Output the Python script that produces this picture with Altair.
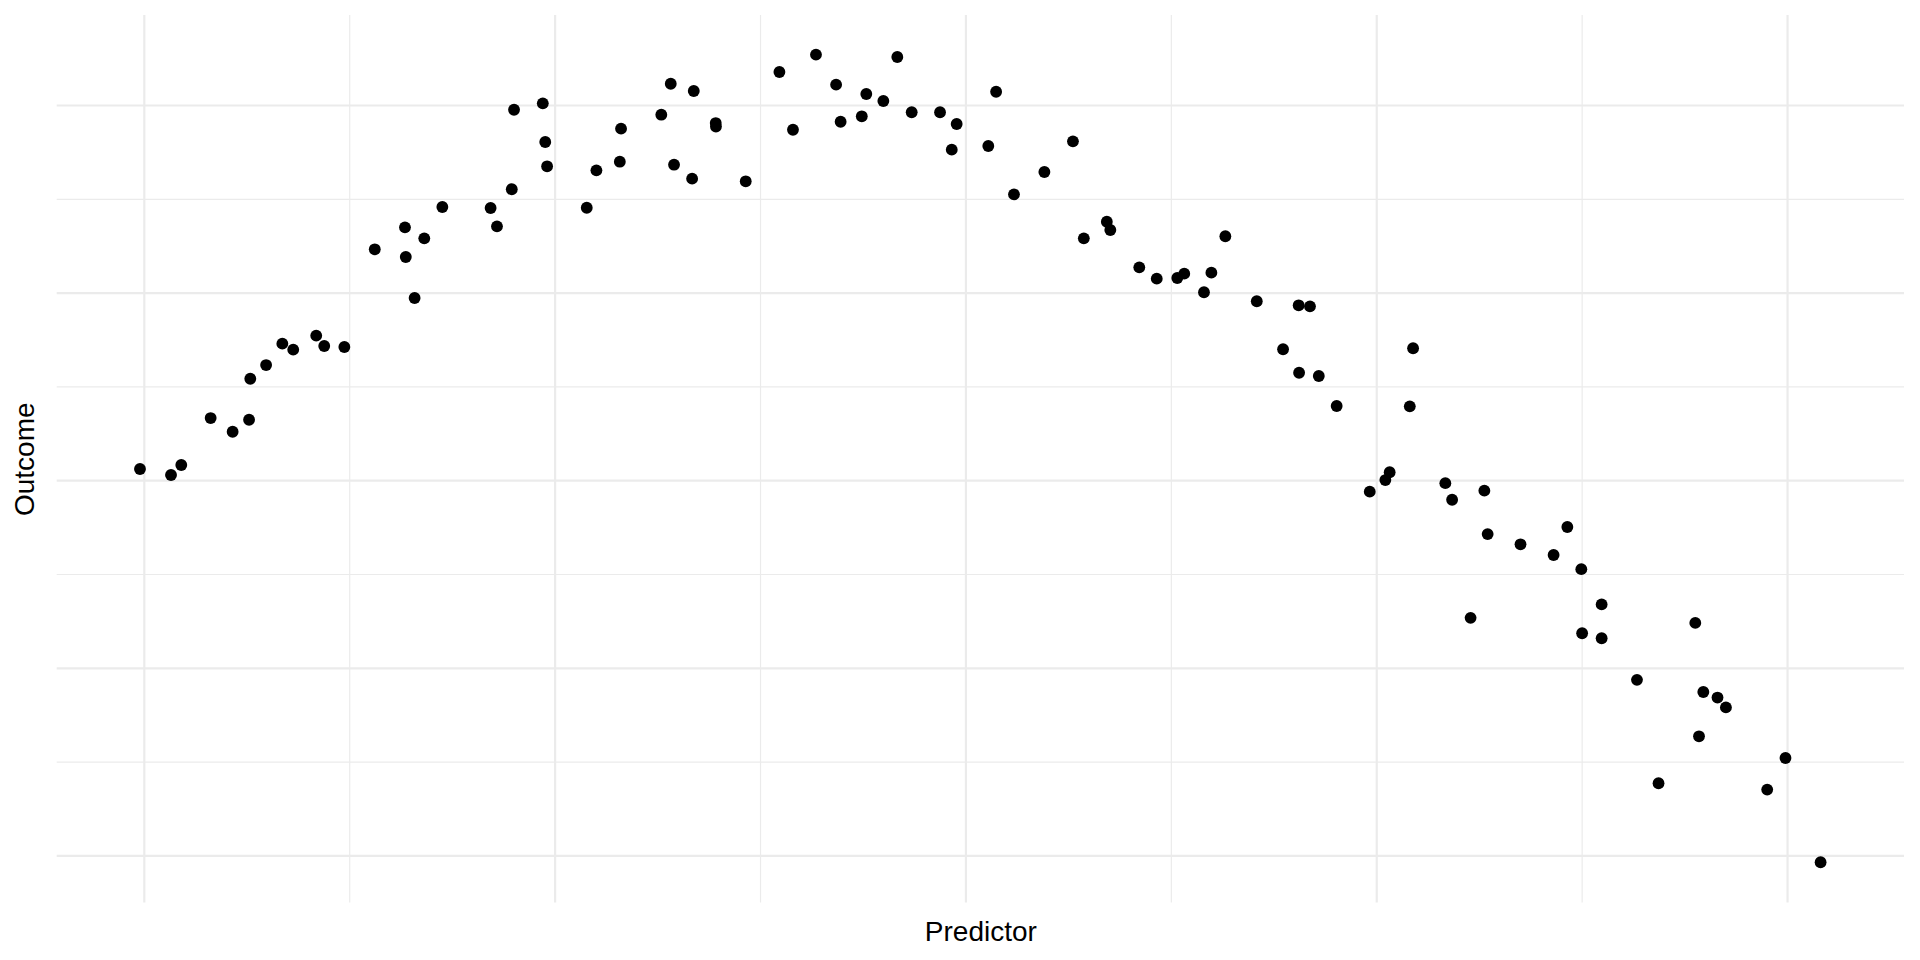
import altair as alt
import pandas as pd

# Values (arbitrary units: major grid at 0,2,4,6,8)
predictor = [
    -0.021, 0.130, 0.180, 0.323, 0.430, 0.510, 0.516, 0.593, 0.672, 0.725,
    0.837, 0.876, 0.974, 1.122, 1.269, 1.273, 1.316, 1.363, 1.451, 1.686,
    1.717, 1.789, 1.800, 1.940, 1.952, 1.961, 2.154, 2.201, 2.315, 2.321,
    2.517, 2.563, 2.579, 2.667, 2.675, 2.782, 2.783, 2.928, 3.092, 3.158,
    3.270, 3.368, 3.390, 3.493, 3.515, 3.598, 3.666, 3.736, 3.874, 3.955,
    3.931, 4.109, 4.147, 4.521, 4.234, 4.382, 4.574, 4.686, 4.703, 4.844,
    4.929, 5.029, 5.063, 5.159, 5.195, 5.263, 5.416, 5.620, 5.675, 5.544,
    5.622, 5.718, 5.805, 6.177, 6.161, 5.966, 6.042, 6.063, 6.334, 6.367,
    6.524, 6.540, 6.457, 6.700, 6.861, 6.928, 6.996, 7.000, 7.095, 7.095,
    7.267, 7.372, 7.551, 7.590, 7.659, 7.700, 7.569, 7.901, 7.990, 8.161,
]
outcome = [
    4.125, 4.061, 4.167, 4.668, 4.522, 4.650, 5.087, 5.233, 5.461, 5.397,
    5.546, 5.436, 5.425, 6.467, 6.701, 6.385, 5.948, 6.584, 6.918, 6.907,
    6.712, 7.107, 7.955, 8.023, 7.611, 7.352, 6.910, 7.309, 7.401, 7.753,
    7.902, 8.232, 7.369, 7.220, 8.155, 7.813, 7.776, 7.192, 8.357, 7.742,
    8.542, 8.222, 7.827, 7.885, 8.123, 8.048, 8.517, 7.928, 7.928, 7.803,
    7.529, 7.568, 8.147, 7.618, 7.053, 7.291, 6.584, 6.761, 6.673, 6.275,
    6.154, 6.161, 6.207, 6.009, 6.218, 6.606, 5.913, 5.870, 5.859, 5.401,
    5.151, 5.116, 4.796, 5.412, 4.793, 3.883, 4.007, 4.090, 3.974, 3.797,
    3.894, 3.431, 2.538, 3.322, 3.208, 3.506, 3.057, 2.374, 2.681, 2.320,
    1.877, 0.774, 2.484, 1.747, 1.688, 1.583, 1.275, 0.707, 1.044, -0.068,
]

x_major = [0, 2, 4, 6, 8]
x_minor = [1, 3, 5, 7]
y_major = [0, 2, 4, 6, 8]
y_minor = [1, 3, 5, 7]

x_domain = [-0.4265, 8.567]
y_domain = [-0.497, 8.965]

df = pd.DataFrame({"Predictor": predictor, "Outcome": outcome})

xs = alt.Scale(domain=x_domain, nice=False, zero=False)
ys = alt.Scale(domain=y_domain, nice=False, zero=False)

grid_color = "#EBEBEB"

axis_common = dict(
    labels=False, ticks=False, domain=False, grid=False,
    titleFont="Liberation Sans", titleFontSize=28, titleFontWeight="normal",
    titleColor="black", titleBaseline="alphabetic",
)
x_axis = alt.Axis(titlePadding=38, **axis_common)
y_axis = alt.Axis(titlePadding=23.7, **axis_common)

vmaj = alt.Chart(pd.DataFrame({"v": x_major})).mark_rule(
    color=grid_color, strokeWidth=2.2
).encode(x=alt.X("v:Q", scale=xs, axis=x_axis, title="Predictor"))
vmin = alt.Chart(pd.DataFrame({"v": x_minor})).mark_rule(
    color=grid_color, strokeWidth=1.2
).encode(x=alt.X("v:Q", scale=xs, axis=x_axis, title="Predictor"))
hmaj = alt.Chart(pd.DataFrame({"h": y_major})).mark_rule(
    color=grid_color, strokeWidth=2.2
).encode(y=alt.Y("h:Q", scale=ys, axis=y_axis, title="Outcome"))
hmin = alt.Chart(pd.DataFrame({"h": y_minor})).mark_rule(
    color=grid_color, strokeWidth=1.2
).encode(y=alt.Y("h:Q", scale=ys, axis=y_axis, title="Outcome"))

points = alt.Chart(df).mark_circle(size=140, color="black", opacity=1).encode(
    x=alt.X("Predictor:Q", scale=xs, title="Predictor", axis=x_axis),
    y=alt.Y("Outcome:Q", scale=ys, title="Outcome", axis=y_axis),
)

chart = alt.layer(hmin, vmin, hmaj, vmaj, points).properties(
    width=1847.3,
    height=887.5,
    autosize=alt.AutoSizeParams(type="none"),
    padding={"left": 48.7, "top": 7, "right": 8, "bottom": 50},
    background="white",
).configure_view(stroke=None)

chart.save("out.html", embed_options={"renderer": "svg", "actions": False})
